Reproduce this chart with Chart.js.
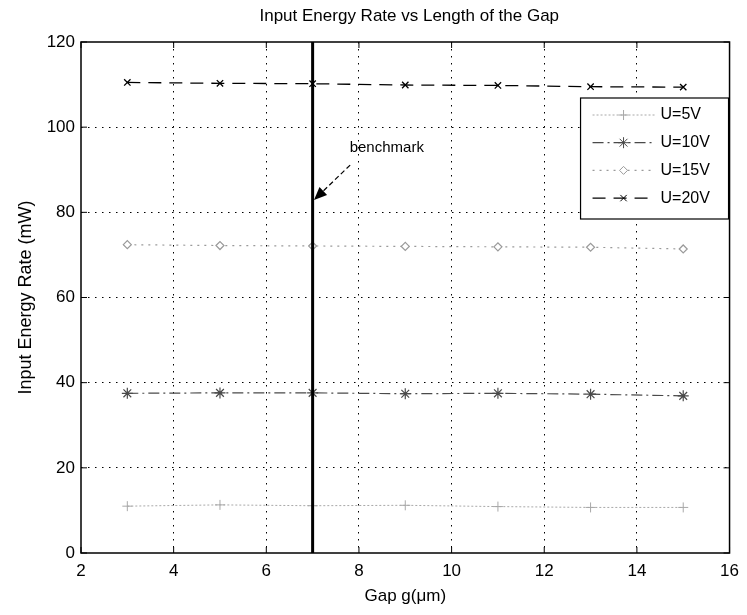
<!DOCTYPE html>
<html>
<head>
<meta charset="utf-8">
<script src="https://cdn.jsdelivr.net/npm/chart.js@4/dist/chart.umd.min.js"></script>
<style>
    html, body { margin: 0; padding: 0; background: #fff; }
    canvas { display: block; }
</style>
</head>
<body>
<canvas id="energyChart" width="747" height="615"></canvas>
<script>
// gap lengths (um) and input energy rate (mW) per supply voltage
const gaps = [3, 5, 7, 9, 11, 13, 15];
const rateU5 = [11.0, 11.3, 11.1, 11.2, 10.9, 10.7, 10.7];
const rateU10 = [37.5, 37.6, 37.6, 37.4, 37.5, 37.3, 36.9];
const rateU15 = [72.4, 72.2, 72.1, 72.0, 71.9, 71.8, 71.4];
const rateU20 = [110.5, 110.3, 110.2, 109.9, 109.8, 109.5, 109.4];
const seriesLabels = ['U=5V', 'U=10V', 'U=15V', 'U=20V'];
const xTicks = [2, 4, 6, 8, 10, 12, 14, 16];
const yTicks = [0, 20, 40, 60, 80, 100, 120];
const benchmarkGap = 7;

const FONT = 'Liberation Sans, Arial, sans-serif';

function toPoints(values) {
    return values.map((v, i) => ({x: gaps[i], y: v}));
}

// axes box, inward ticks, benchmark line + arrow, title and legend
const matlabFrame = {
    id: 'matlabFrame',
    afterDatasetsDraw(chart) {
        const {ctx, chartArea: a, scales: {x, y}} = chart;
        ctx.save();

        // benchmark line
        const bx = x.getPixelForValue(benchmarkGap);
        ctx.strokeStyle = '#000';
        ctx.lineWidth = 3;
        ctx.beginPath();
        ctx.moveTo(bx, a.top);
        ctx.lineTo(bx, a.bottom);
        ctx.stroke();

        // box
        ctx.lineWidth = 1.5;
        ctx.strokeRect(a.left, a.top, a.right - a.left, a.bottom - a.top);

        // inward ticks
        ctx.lineWidth = 1;
        ctx.beginPath();
        xTicks.forEach(t => {
            const px = x.getPixelForValue(t);
            ctx.moveTo(px, a.bottom); ctx.lineTo(px, a.bottom - 6);
            ctx.moveTo(px, a.top); ctx.lineTo(px, a.top + 6);
        });
        yTicks.forEach(t => {
            const py = y.getPixelForValue(t);
            ctx.moveTo(a.left, py); ctx.lineTo(a.left + 6, py);
            ctx.moveTo(a.right, py); ctx.lineTo(a.right - 6, py);
        });
        ctx.stroke();

        // benchmark annotation
        const tailX = x.getPixelForValue(7.81), tailY = y.getPixelForValue(91.1);
        const tipX = x.getPixelForValue(7.03), tipY = y.getPixelForValue(82.9);
        const ang = Math.atan2(tipY - tailY, tipX - tailX);
        ctx.setLineDash([5, 3]);
        ctx.lineWidth = 1.2;
        ctx.beginPath();
        ctx.moveTo(tailX, tailY);
        ctx.lineTo(tipX - 8 * Math.cos(ang), tipY - 8 * Math.sin(ang));
        ctx.stroke();
        ctx.setLineDash([]);
        ctx.fillStyle = '#000';
        ctx.beginPath();
        ctx.moveTo(tipX, tipY);
        ctx.lineTo(tipX - 14 * Math.cos(ang - 0.4), tipY - 14 * Math.sin(ang - 0.4));
        ctx.lineTo(tipX - 14 * Math.cos(ang + 0.4), tipY - 14 * Math.sin(ang + 0.4));
        ctx.closePath();
        ctx.fill();

        ctx.font = '15px ' + FONT;
        ctx.textAlign = 'left';
        ctx.textBaseline = 'middle';
        ctx.fillText('benchmark', x.getPixelForValue(7.8), y.getPixelForValue(95.2));

        // title
        ctx.font = '17px ' + FONT;
        ctx.textAlign = 'center';
        ctx.fillText('Input Energy Rate vs Length of the Gap', (a.left + a.right) / 2 + 4, 16);

        // legend
        const lx = a.right - 149, ly = a.top + 56, lw = 148, lh = 121;
        ctx.fillStyle = '#fff';
        ctx.fillRect(lx, ly, lw, lh);
        ctx.strokeStyle = '#000';
        ctx.lineWidth = 1.2;
        ctx.strokeRect(lx, ly, lw, lh);
        chart.data.datasets.forEach((ds, i) => {
            const rowY = ly + 17 + i * 27.7;
            ctx.strokeStyle = ds.borderColor;
            ctx.lineWidth = ds.borderWidth;
            ctx.setLineDash(ds.borderDash || []);
            ctx.beginPath();
            ctx.moveTo(lx + 12, rowY);
            ctx.lineTo(lx + 74, rowY);
            ctx.stroke();
            ctx.setLineDash([]);
            ctx.fillStyle = ds.pointBackgroundColor || ds.borderColor;
            ctx.lineWidth = 1;
            Chart.helpers.drawPoint(ctx, {
                pointStyle: ds.pointStyle,
                radius: ds.pointRadius,
                borderWidth: 1
            }, lx + 43, rowY);
            ctx.fillStyle = '#000';
            ctx.font = '16px ' + FONT;
            ctx.textAlign = 'left';
            ctx.fillText(ds.label, lx + 80, rowY);
        });
        ctx.restore();
    }
};

const gridStyle = {
    lineWidth: 1,
    drawTicks: false
};

new Chart(document.getElementById('energyChart').getContext('2d'), {
    type: 'line',
    data: {
        datasets: [
            {
                label: seriesLabels[0],
                data: toPoints(rateU5),
                borderColor: '#a8a8a8',
                backgroundColor: '#a8a8a8',
                borderWidth: 1,
                borderDash: [2, 2],
                pointStyle: 'cross',
                pointRadius: 5
            },
            {
                label: seriesLabels[1],
                data: toPoints(rateU10),
                borderColor: '#4a4a4a',
                backgroundColor: '#4a4a4a',
                borderWidth: 1.2,
                borderDash: [11, 4, 2, 4],
                pointStyle: 'star',
                pointRadius: 5.5
            },
            {
                label: seriesLabels[2],
                data: toPoints(rateU15),
                borderColor: '#9a9a9a',
                backgroundColor: '#9a9a9a',
                pointBackgroundColor: '#fff',
                borderWidth: 1.2,
                borderDash: [2, 5],
                pointStyle: 'rectRot',
                pointRadius: 4
            },
            {
                label: seriesLabels[3],
                data: toPoints(rateU20),
                borderColor: '#000',
                backgroundColor: '#000',
                borderWidth: 1.3,
                borderDash: [13, 8],
                pointStyle: 'crossRot',
                pointRadius: 4.5
            }
        ]
    },
    options: {
        responsive: false,
        animation: false,
        layout: {padding: {top: 42, right: 13, left: 0, bottom: 0}},
        elements: {
            line: {tension: 0, fill: false},
            point: {borderWidth: 1, hoverRadius: 5}
        },
        plugins: {
            legend: {display: false},
            title: {display: false},
            tooltip: {enabled: false}
        },
        scales: {
            x: {
                type: 'linear',
                min: 2,
                max: 16,
                afterFit: scale => { scale.height = 62; },
                afterBuildTicks: scale => { scale.ticks = xTicks.map(v => ({value: v})); },
                border: {display: false, dash: [1.5, 5.5]},
                grid: Object.assign({}, gridStyle, {
                    color: ctx => (ctx.tick && (ctx.tick.value === 2 || ctx.tick.value === 16)) ? 'rgba(0,0,0,0)' : '#000'
                }),
                ticks: {
                    color: '#000',
                    padding: 8,
                    maxRotation: 0,
                    font: {family: FONT, size: 17}
                },
                title: {
                    display: true,
                    text: 'Gap g(μm)',
                    color: '#000',
                    padding: {top: 0, bottom: 8},
                    font: {family: FONT, size: 17}
                }
            },
            y: {
                min: 0,
                max: 120,
                afterFit: scale => { scale.width = 81; },
                afterBuildTicks: scale => { scale.ticks = yTicks.map(v => ({value: v})); },
                border: {display: false, dash: [1.5, 5.5]},
                grid: Object.assign({}, gridStyle, {
                    color: ctx => (ctx.tick && (ctx.tick.value === 0 || ctx.tick.value === 120)) ? 'rgba(0,0,0,0)' : '#000'
                }),
                ticks: {
                    color: '#000',
                    padding: 6,
                    font: {family: FONT, size: 17}
                },
                title: {
                    display: true,
                    text: 'Input Energy Rate (mW)',
                    color: '#000',
                    padding: {top: 15, bottom: 0},
                    font: {family: FONT, size: 18}
                }
            }
        }
    },
    plugins: [matlabFrame]
});
</script>
</body>
</html>
